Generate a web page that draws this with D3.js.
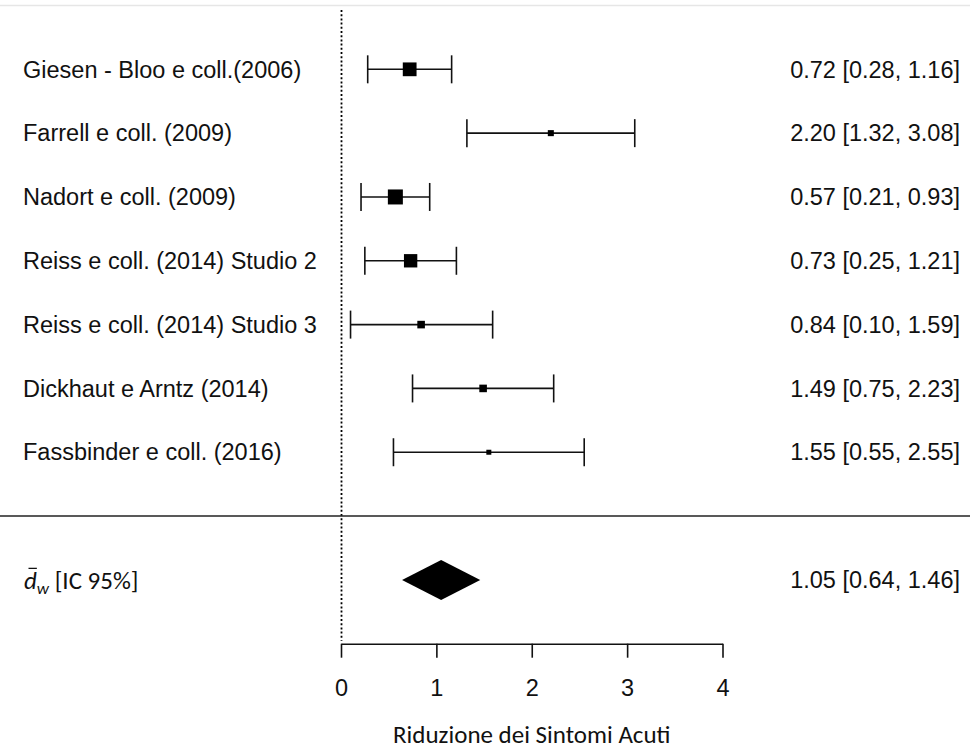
<!DOCTYPE html>
<html>
<head>
<meta charset="utf-8">
<title>Forest plot</title>
<script src="https://cdn.jsdelivr.net/npm/d3@7"></script>
<style>
    body { margin: 0; background: #fff; }
    svg { display: block; }
    .lbl { font-family: "Liberation Sans", Arial, sans-serif; font-size: 23.5px; fill: #111; }
    .cal { font-family: Carlito, Calibri, Lato, sans-serif; fill: #111; }
</style>
</head>
<body>
<svg id="chart" width="970" height="751"></svg>
<script>
/*global d3*/

// studies, effect sizes and 95% CI
var studies = [
    "Giesen - Bloo e coll.(2006)",
    "Farrell e coll. (2009)",
    "Nadort e coll. (2009)",
    "Reiss e coll. (2014) Studio 2",
    "Reiss e coll. (2014) Studio 3",
    "Dickhaut e Arntz (2014)",
    "Fassbinder e coll. (2016)"
];
var estimates = [0.72, 2.20, 0.57, 0.73, 0.84, 1.49, 1.55];
var lower = [0.28, 1.32, 0.21, 0.25, 0.10, 0.75, 0.55];
var upper = [1.16, 3.08, 0.93, 1.21, 1.59, 2.23, 2.55];
// relative study weights (box size), estimated from the squares
var weights = [18.4, 10.9, 19.6, 18.0, 12.4, 12.4, 9.9];

// pooled estimate
var pooled = [1.05, 0.64, 1.46];
var pooledLabel = "[IC 95%]";

var xTicks = [0, 1, 2, 3, 4];
var xTitle = "Riduzione dei Sintomi Acuti";

(function () {
    "use strict";

    var svg = d3.select("#chart"),
        width = 970,
        x = d3.scaleLinear().domain([0, 4]).range([341, 722.5]),
        // one row slot per line: -1 = top rule, 0..6 studies, 7 separator, 8 summary, 9 axis
        y = d3.scaleLinear().domain([-1, 9]).range([5.5, 643.7]),
        box = d3.scaleLinear().domain(d3.extent(weights)).range([5, 15]),
        fmt = d3.format(".2f"),
        ink = "#111",
        lw = 1.6,
        rows,
        label,
        dSpan,
        dLen;

    // top light rule
    svg.append("line")
        .attr("x1", 0).attr("x2", width)
        .attr("y1", y(-1)).attr("y2", y(-1))
        .attr("stroke", "#e6e6e6").attr("stroke-width", 1.5);

    // reference line at 0
    svg.append("line")
        .attr("x1", Math.round(x(0)) + 0.5).attr("x2", Math.round(x(0)) + 0.5)
        .attr("y1", 10).attr("y2", y(9) - 3)
        .attr("stroke", "#000").attr("stroke-width", 1.8)
        .attr("stroke-dasharray", "2,2.2");

    // separator above the summary
    svg.append("line")
        .attr("x1", 0).attr("x2", width)
        .attr("y1", y(7)).attr("y2", y(7))
        .attr("stroke", "#222").attr("stroke-width", lw);

    rows = svg.selectAll("g.study")
        .data(studies)
        .enter().append("g")
        .attr("class", "study")
        .attr("transform", function (d, i) { return "translate(0," + y(i) + ")"; });

    rows.append("line")
        .attr("x1", function (d, i) { return x(lower[i]); })
        .attr("x2", function (d, i) { return x(upper[i]); })
        .attr("stroke", ink).attr("stroke-width", lw);

    rows.append("line")
        .attr("x1", function (d, i) { return x(lower[i]); })
        .attr("x2", function (d, i) { return x(lower[i]); })
        .attr("y1", -14).attr("y2", 14)
        .attr("stroke", ink).attr("stroke-width", lw);

    rows.append("line")
        .attr("x1", function (d, i) { return x(upper[i]); })
        .attr("x2", function (d, i) { return x(upper[i]); })
        .attr("y1", -14).attr("y2", 14)
        .attr("stroke", ink).attr("stroke-width", lw);

    rows.append("rect")
        .attr("x", function (d, i) { return x(estimates[i]) - box(weights[i]) / 2; })
        .attr("y", function (d, i) { return -box(weights[i]) / 2; })
        .attr("width", function (d, i) { return box(weights[i]); })
        .attr("height", function (d, i) { return box(weights[i]); })
        .attr("fill", "#000");

    rows.append("text")
        .attr("class", "lbl")
        .attr("x", 23).attr("dy", "0.35em")
        .text(function (d) { return d; });

    rows.append("text")
        .attr("class", "lbl")
        .attr("x", 960).attr("dy", "0.35em")
        .attr("text-anchor", "end")
        .text(function (d, i) {
            return fmt(estimates[i]) + " [" + fmt(lower[i]) + ", " + fmt(upper[i]) + "]";
        });

    // summary diamond
    svg.append("polygon")
        .attr("points", [
            [x(pooled[1]), y(8)],
            [x(pooled[0]), y(8) - 20],
            [x(pooled[2]), y(8)],
            [x(pooled[0]), y(8) + 20]
        ].map(function (p) { return p.join(","); }).join(" "))
        .attr("fill", "#000");

    label = svg.append("text")
        .attr("class", "cal")
        .attr("x", 24).attr("y", y(8)).attr("dy", "0.35em")
        .attr("font-size", 25);
    dSpan = label.append("tspan").attr("font-style", "italic").text("d");
    label.append("tspan").attr("font-style", "italic").attr("font-size", 17)
        .attr("dy", "0.3em").text("w");
    label.append("tspan").attr("dy", "-0.2em").text(" " + pooledLabel);

    // bar over the d
    dLen = dSpan.node().getComputedTextLength();
    svg.append("line")
        .attr("x1", 24 + dLen * 0.35).attr("x2", 24 + dLen * 1.0)
        .attr("y1", y(8) - 11.5).attr("y2", y(8) - 11.5)
        .attr("stroke", ink).attr("stroke-width", 1.3);

    svg.append("text")
        .attr("class", "lbl")
        .attr("x", 960).attr("y", y(8)).attr("dy", "0.35em")
        .attr("text-anchor", "end")
        .text(fmt(pooled[0]) + " [" + fmt(pooled[1]) + ", " + fmt(pooled[2]) + "]");

    // x axis
    svg.append("g")
        .attr("transform", "translate(0," + y(9) + ")")
        .call(d3.axisBottom(x).tickValues(xTicks).tickFormat(d3.format("d"))
            .tickSize(14).tickSizeOuter(0).tickPadding(22))
        .call(function (g) {
            g.select(".domain").attr("stroke", ink).attr("stroke-width", lw);
            g.selectAll(".tick line").attr("stroke", ink).attr("stroke-width", lw);
            g.selectAll(".tick text")
                .attr("font-family", "'Liberation Sans', Arial, sans-serif")
                .attr("font-size", 23.5).attr("fill", ink);
        });

    svg.append("text")
        .attr("class", "cal")
        .attr("x", (x(0) + x(4)) / 2).attr("y", 743)
        .attr("text-anchor", "middle")
        .attr("font-size", 25)
        .text(xTitle);
}());
</script>
</body>
</html>
